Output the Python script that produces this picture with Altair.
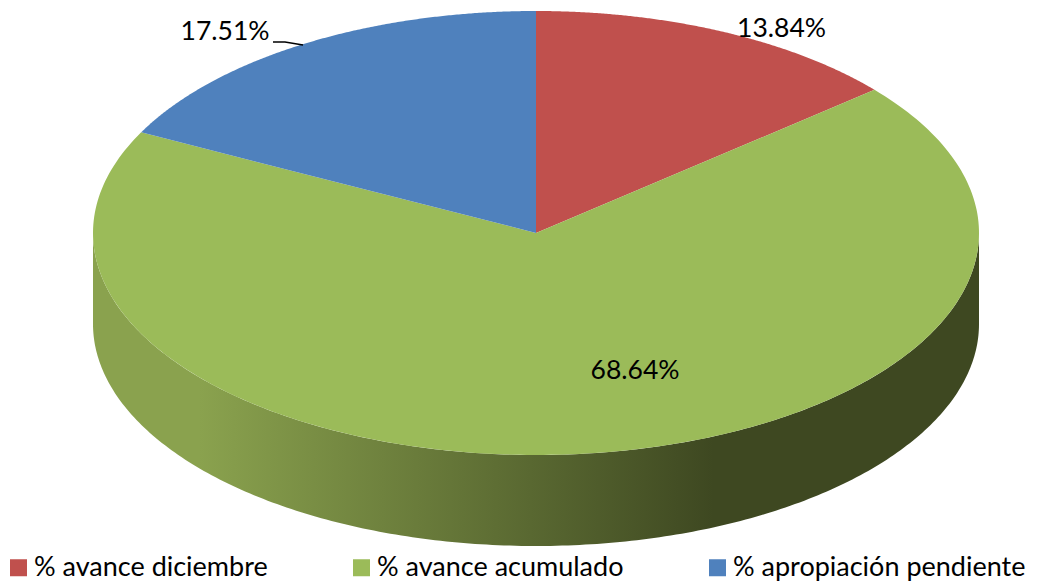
import numpy as np
import altair as alt

names = ["% avance diciembre", "% avance acumulado", "% apropiación pendiente"]
values = [13.84, 68.64, 17.51]
labels = ["13.84%", "68.64%", "17.51%"]
colors = ["#C0504D", "#9BBB59", "#4F81BD"]

CX, CY, RX, RY, DEPTH = 536.0, 233.0, 443.0, 222.0, 91.0
label_anchor = [(781.5, 29), (635, 371), (225, 32)]
leader = [(273, 42), (285, 42), (303, 45)]


def rim(a0, a1, n=240, dy=0.0):
    t = np.linspace(a0, a1, n)
    return [[float(CX + RX * np.sin(v)), float(CY - RY * np.cos(v) + dy)] for v in t]


total = sum(values)
edges = np.cumsum([0.0] + values) / total * 2 * np.pi
slices = []
for i, n in enumerate(names):
    ring = [[CX, CY]] + rim(edges[i], edges[i + 1]) + [[CX, CY]]
    slices.append({"type": "Feature", "properties": {"name": n},
                   "geometry": {"type": "Polygon", "coordinates": [ring]}})

wall_ring = rim(np.pi / 2, 3 * np.pi / 2) + rim(3 * np.pi / 2, np.pi / 2, dy=DEPTH)
wall_ring.append(wall_ring[0])
wall = {"type": "Feature", "properties": {},
        "geometry": {"type": "Polygon", "coordinates": [wall_ring]}}
line = {"type": "Feature", "properties": {},
        "geometry": {"type": "LineString", "coordinates": [list(p) for p in leader]}}

proj = dict(type="identity", scale=1, translate=[-8, -8])


def fc(features):
    return alt.Data(values={"type": "FeatureCollection", "features": features},
                    format=alt.DataFormat(property="features", type="json"))


wall_layer = alt.Chart(fc([wall])).mark_geoshape(
    strokeWidth=0,
    fill=alt.Gradient(
        gradient="linear", x1=0, x2=1, y1=0, y2=0,
        stops=[alt.GradientStop(color="#8AA24E", offset=0.12),
               alt.GradientStop(color="#3E4821", offset=0.70)],
    ),
).project(**proj)

slice_layer = alt.Chart(fc(slices)).mark_geoshape(strokeWidth=0).encode(
    color=alt.Color(
        "properties.name:N",
        scale=alt.Scale(domain=names, range=colors),
        legend=alt.Legend(
            title=None, orient="none", legendX=-3, legendY=546, direction="horizontal",
            columns=3, symbolType="square", symbolSize=289, symbolStrokeWidth=0,
            labelFont="Lato", labelFontSize=27, labelColor="#000000", labelLimit=400,
            labelOffset=2, columnPadding=80, padding=0,
        ),
    )
).project(**proj)

line_layer = alt.Chart(fc([line])).mark_geoshape(
    filled=False, stroke="#000000", strokeWidth=1.4
).project(**proj)

text_rows = [{"t": t, "lon": p[0], "lat": p[1]} for t, p in zip(labels, label_anchor)]
text_layer = alt.Chart(alt.Data(values=text_rows)).mark_text(
    font="Lato", fontSize=26.5, color="#000000", align="center", baseline="middle"
).encode(longitude="lon:Q", latitude="lat:Q", text="t:N").project(**proj)

chart = alt.layer(wall_layer, slice_layer, line_layer, text_layer).properties(
    width=1021, height=574, padding=0,
    autosize=alt.AutoSizeParams(type="none"),
    background="#FFFFFF",
).configure_view(strokeWidth=0)

chart.save("out.html", embed_options={"renderer": "svg", "actions": False})
